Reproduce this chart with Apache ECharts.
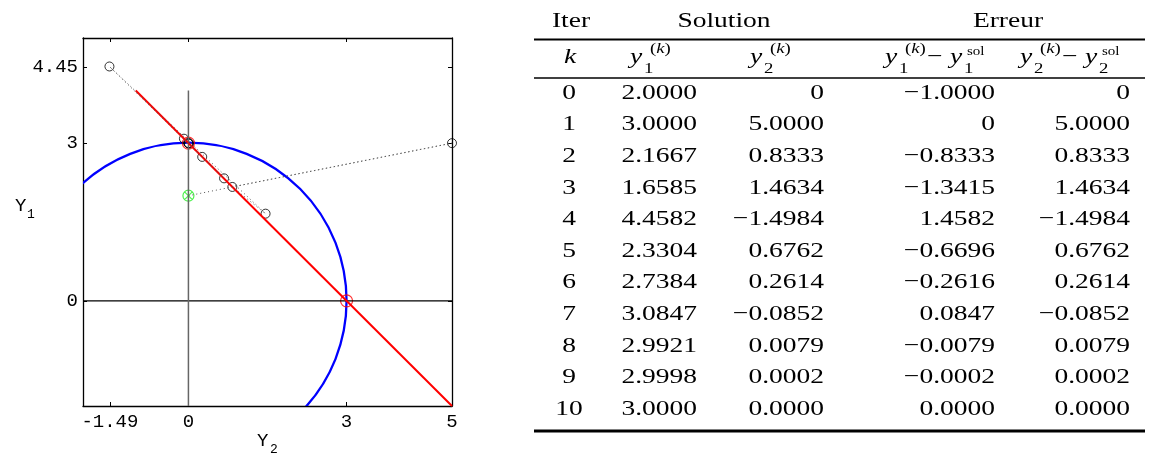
<!DOCTYPE html>
<html>
<head>
<meta charset="utf-8">
<script src="https://cdn.jsdelivr.net/npm/echarts@6/dist/echarts.min.js"></script>
<style>
  html, body { margin: 0; padding: 0; background: #fff; }
  #main { width: 1149px; height: 453px; }
</style>
</head>
<body>
<div id="main"></div>
<script>
// Newton iterations for y1^2 + y2^2 = 9, y1 + y2 = 3 (exact solution y1 = 3, y2 = 0)
const iterK    = ['0', '1', '2', '3', '4', '5', '6', '7', '8', '9', '10'];
const y1Text   = ['2.0000', '3.0000', '2.1667', '1.6585', '4.4582', '2.3304', '2.7384', '3.0847', '2.9921', '2.9998', '3.0000'];
const y2Text   = ['0', '5.0000', '0.8333', '1.4634', '\u22121.4984', '0.6762', '0.2614', '\u22120.0852', '0.0079', '0.0002', '0.0000'];
const err1Text = ['\u22121.0000', '0', '\u22120.8333', '\u22121.3415', '1.4582', '\u22120.6696', '\u22120.2616', '0.0847', '\u22120.0079', '\u22120.0002', '0.0000'];
const err2Text = ['0', '5.0000', '0.8333', '1.4634', '\u22121.4984', '0.6762', '0.2614', '\u22120.0852', '0.0079', '0.0002', '0.0000'];

// axis ticks (y2 horizontal, y1 vertical)
const y2Ticks = [-1.49, 0, 3, 5];
const y1Ticks = [0, 3, 4.45];

// geometry of the system, in (y2, y1) coordinates
const solutions      = [[0, 3], [3, 0]];
const circleCenter   = [0, 0];
const circleRadius   = 3;
const constraintLine = [[-1, 4], [5, -2]];
const y1AxisSegment  = [[0, 4], [0, -2]];
const y2AxisSegment  = [[-2, 0], [5, 0]];

const num = s => Number(s.replace('\u2212', '-'));
const y1Iter = y1Text.map(num);
const y2Iter = y2Text.map(num);
const path = y1Iter.map((v, k) => [y2Iter[k], v]);

const MONO = '"Liberation Mono", "DejaVu Sans Mono", monospace';
const SERIF = '"Liberation Serif", "Times New Roman", serif';
const SX = 1.25;          // horizontal stretch of the table typography

function axisPair(pos, ticks, showLabels, isX) {
  return {
    type: 'value', min: -2, max: 5, position: pos,
    axisLine: { show: true, onZero: false, lineStyle: { color: '#000', width: 1.3 } },
    axisTick: { show: true, inside: true, length: 4, customValues: ticks, lineStyle: { color: '#000', width: 1 } },
    axisLabel: {
      show: showLabels, customValues: ticks, color: '#000', fontFamily: MONO, fontSize: 19,
      margin: isX ? 6 : 5, formatter: v => String(v)
    },
    splitLine: { show: false }
  };
}

const lineSeries = (data, color, width, extra) => Object.assign({
  type: 'line', data, symbol: 'none', silent: true, animation: false,
  lineStyle: { color, width }
}, extra || {});

// table pieces
const graphics = [];
function t(x, y, text, o) {
  o = o || {};
  const style = {
    text, fill: '#000', fontFamily: o.family || SERIF, fontSize: o.size || 22,
    fontStyle: o.italic ? 'italic' : 'normal',
    align: o.align || 'left', verticalAlign: 'middle'
  };
  if (o.rich) style.rich = o.rich;
  graphics.push({ type: 'text', x, y, scaleX: o.family === MONO ? 1 : SX, z: 10, silent: true, style });
}
function rule(y, w) {
  graphics.push({ type: 'line', z: 10, silent: true,
    shape: { x1: 534, y1: y, x2: 1145, y2: y }, style: { stroke: '#000', lineWidth: w } });
}

const supRich = {
  p: { fontFamily: SERIF, fontSize: 15, fontStyle: 'normal' },
  i: { fontFamily: SERIF, fontSize: 15, fontStyle: 'italic' }
};

// header
t(571, 21, 'Iter', { align: 'center' });
t(724, 21, 'Solution', { align: 'center' });
t(1008, 21, 'Erreur', { align: 'center' });
rule(39.5, 2);
t(570, 57, 'k', { italic: true, align: 'center' });
function yk(x, sub, supIsK) {
  t(x, 57, 'y', { italic: true });
  t(x + 14, 69, sub, { size: 15 });
  if (supIsK) t(x + 20, 49, '{p|(}{i|k}{p|)}', { size: 15, rich: supRich });
  else t(x + 17, 52, 'sol', { size: 12 });
}
yk(630, '1', true);
yk(750, '2', true);
yk(885, '1', true);
t(927, 57, '\u2212');
yk(950, '1', false);
yk(1020, '2', true);
t(1062, 57, '\u2212');
yk(1085, '2', false);
rule(78, 1.5);

// body
const rowY0 = 93, rowStep = 31.6;
iterK.forEach((k, i) => {
  const y = rowY0 + i * rowStep;
  t(569, y, k, { align: 'center' });
  t(697, y, y1Text[i], { align: 'right' });
  t(824, y, y2Text[i], { align: 'right' });
  t(995, y, err1Text[i], { align: 'right' });
  t(1130, y, err2Text[i], { align: 'right' });
});
rule(431, 3);

// axis names
t(15, 206, 'Y', { family: MONO, size: 19 });
t(27, 215, '1', { family: MONO, size: 13 });
t(257, 441, 'Y', { family: MONO, size: 19 });
t(270, 450, '2', { family: MONO, size: 13 });

const chart = echarts.init(document.getElementById('main'), null, { renderer: 'canvas' });
chart.setOption({
  animation: false,
  backgroundColor: '#fff',
  grid: { left: 83, top: 38, width: 369, height: 368, containLabel: false },
  xAxis: [axisPair('bottom', y2Ticks, true, true), axisPair('top', y2Ticks, false, true)],
  yAxis: [axisPair('left', y1Ticks, true, false), axisPair('right', y1Ticks, false, false)],
  graphic: graphics,
  series: [
    lineSeries(y2AxisSegment, '#000', 1.3),
    lineSeries(y1AxisSegment, '#666', 1.5),
    {
      type: 'custom', coordinateSystem: 'cartesian2d', clip: true, silent: true,
      data: [[circleCenter[0], circleCenter[1], circleRadius]],
      renderItem(params, api) {
        const c = api.coord([api.value(0), api.value(1)]);
        const r = api.size([api.value(2), 0])[0];
        return { type: 'circle', shape: { cx: c[0], cy: c[1], r },
          style: { fill: 'none', stroke: '#0000ff', lineWidth: 2.3 } };
      }
    },
    lineSeries(constraintLine, '#ff0000', 2),
    lineSeries(path, '#555', 1, { lineStyle: { color: '#555', width: 1, type: [1, 3] } }),
    {
      type: 'scatter', data: solutions, symbol: 'circle', symbolSize: 12, silent: true,
      itemStyle: { color: 'transparent', borderColor: '#ff0000', borderWidth: 1.2 }
    },
    {
      type: 'scatter', data: path.slice(1), symbol: 'circle', symbolSize: 9, silent: true, clip: false,
      itemStyle: { color: 'transparent', borderColor: '#000', borderWidth: 1 }
    },
    {
      type: 'scatter', data: path.slice(0, 1), silent: true,
      symbol: 'path://M0,10A10,10 0 1,1 20,10A10,10 0 1,1 0,10ZM3,3L17,17M17,3L3,17',
      symbolSize: 11,
      itemStyle: { color: 'transparent', borderColor: '#22ee22', borderWidth: 1.2 }
    }
  ]
});
</script>
</body>
</html>
